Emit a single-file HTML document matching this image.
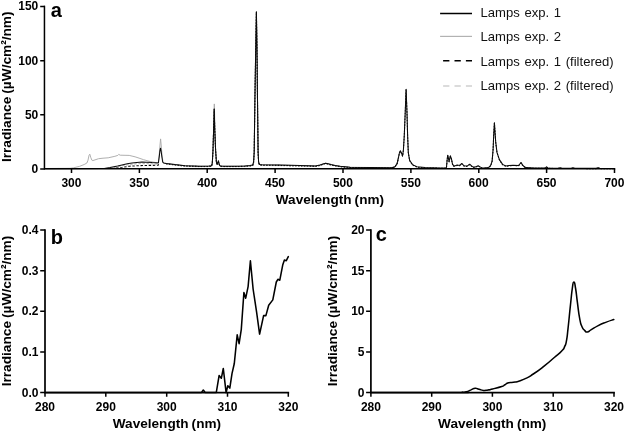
<!DOCTYPE html>
<html lang="en">
<head>
<meta charset="utf-8">
<title>Lamp irradiance spectra</title>
<style>
html,body{margin:0;padding:0;background:#fff;}
body{width:625px;height:432px;overflow:hidden;}
svg{display:block;}
text{font-family:"Liberation Sans",Arial,Helvetica,sans-serif;fill:#000;}
.tk{font-size:12px;font-weight:bold;}
.ti{font-size:13.6px;font-weight:bold;word-spacing:-0.7px;}
.pl{font-size:20px;font-weight:bold;}
.lg{font-size:13.1px;word-spacing:1px;fill:#111;}
.ax{stroke:#000;stroke-width:1.7;fill:none;stroke-linecap:square;}
.tc{stroke:#000;stroke-width:1.5;fill:none;}
.c1{stroke:#0a0a0a;stroke-width:1.05;fill:none;stroke-linejoin:round;}
.c2{stroke:#a6a6a6;stroke-width:0.9;fill:none;stroke-linejoin:round;}
.cb{stroke:#000;stroke-width:1.55;fill:none;stroke-linejoin:round;stroke-linecap:round;}
</style>
</head>
<body>
<svg width="625" height="432" viewBox="0 0 625 432">
<rect width="625" height="432" fill="#fff"/>

<g id="pa">
<polyline class="c2" points="45.0,168.5 70.0,168.3 73.6,167.8 79.4,166.4 84.2,164.5 86.9,163.0 88.0,160.2 89.0,155.4 89.8,154.2 90.7,157.3 91.9,160.2 92.8,160.6 98.6,158.7 103.0,158.2 108.2,157.8 114.9,156.3 117.8,155.4 118.7,154.4 120.2,155.2 125.0,155.3 129.2,155.4 135.0,156.8 139.0,158.1 143.6,159.7 150.3,161.6 156.1,162.6 158.3,162.7 159.2,155.0 160.0,145.0 160.6,138.9 161.2,145.0 162.0,155.0 163.0,162.3 163.7,163.0 166.0,163.4 175.0,164.6 185.0,165.7 200.0,166.2 209.0,166.1 211.6,165.8 212.3,163.0 213.0,150.0 213.6,130.0 213.9,118.0 214.3,103.9 214.7,118.0 214.8,130.0 215.6,150.0 216.4,162.0 217.2,164.4 218.4,160.8 219.3,164.5 220.2,166.0 225.0,166.2 235.0,166.2 245.0,166.0 250.0,165.6 252.8,165.0 253.6,162.0 254.2,152.0 254.9,100.0 255.7,50.0 256.4,11.8 257.0,50.0 257.5,100.0 258.1,152.0 258.6,162.0 259.4,164.5 262.0,164.8 280.0,165.1 300.0,165.6 315.5,165.9 320.0,165.1 323.0,163.9 325.6,163.2 328.0,163.7 331.0,164.6 335.0,165.4 340.2,166.3 350.0,167.2 370.0,167.5 388.0,167.7 391.6,167.7 394.9,166.8 397.1,163.5 398.6,156.9"/>
<polyline class="c2" stroke-dasharray="2.4 1.7" points="106.0,168.5 112.0,167.8 119.6,166.4 129.2,164.5 138.8,163.6 148.4,163.6 156.1,164.0 158.4,164.1"/>
<polyline class="c2" stroke-dasharray="1.6 1.3" points="166.0,164.0 175.0,165.2 185.0,166.3 200.0,166.8 209.0,166.7 211.6,166.4 212.3,163.6 213.0,150.6 213.6,130.6 214.2,109.5 214.8,130.6 215.6,150.6 216.4,162.6 217.2,165.0 218.4,161.4 219.3,165.1 220.2,166.6 225.0,166.8 235.0,166.8 245.0,166.6 250.0,166.2 252.8,165.6 253.6,162.6 254.2,152.6 254.9,100.6 255.7,50.6 256.4,12.4 257.0,50.6 257.5,100.6 258.1,152.6 258.6,162.6 259.4,165.1 262.0,165.4 280.0,165.7 300.0,166.2 315.5,166.5 320.0,165.7 323.0,164.5 325.6,163.8 328.0,164.3 331.0,165.2 335.0,166.0 340.2,166.9 350.0,167.8 370.0,168.1 388.0,168.3 391.6,168.3 394.9,167.4 397.1,164.1 398.6,157.5"/>
<polyline class="c1" stroke-dasharray="2.4 1.7" points="112.0,168.4 117.0,168.0 122.5,167.4 129.2,166.2 138.8,165.7 148.4,165.4 158.2,165.3 158.8,163.0"/>
<polyline class="c1" stroke-dasharray="1.6 1.3" points="166.0,163.8 175.0,164.9 185.0,166.0 200.0,166.5 209.0,166.4 211.6,166.2 212.3,163.3 213.0,150.3 213.6,130.3 214.2,109.2 214.8,130.3 215.6,150.3 216.4,162.3 217.2,164.8 218.4,161.2 219.3,164.8 220.2,166.3 225.0,166.5 235.0,166.5 245.0,166.3 250.0,165.9 252.8,165.3 253.6,162.3 254.2,152.3 254.9,100.3 255.7,50.4 256.4,12.2 257.0,50.4 257.5,100.3 258.1,152.3 258.6,162.3 259.4,164.8 262.0,165.2 280.0,165.4 300.0,165.9 315.5,166.2 320.0,165.4 323.0,164.2 325.6,163.5 328.0,164.0 331.0,164.9 335.0,165.8 340.2,166.7 350.0,167.5 370.0,167.8 388.0,168.0 391.6,168.0 394.9,167.2 397.1,163.8 398.6,157.2 399.5,152.8 400.4,151.2 401.4,153.3 402.6,156.2 403.4,150.3 404.3,135.3 405.2,113.3 406.1,89.5 407.0,113.3 407.6,135.3 408.3,152.8 409.6,160.5 412.5,164.9 416.9,167.2 425.0,167.9 440.0,168.2 446.0,168.3 446.5,167.2 447.2,159.5 447.7,155.5 448.4,158.3 449.1,161.9 449.8,158.3 450.4,156.2 451.5,159.5 452.5,164.3 453.7,166.2 455.2,166.0 457.1,165.4 459.5,165.8 461.9,163.8 463.8,166.0 466.7,166.4 468.1,165.8 469.7,164.5 471.5,166.2 473.4,167.4 475.3,167.2 478.2,166.0 480.1,167.2 482.0,168.3 484.9,168.2 488.7,167.8 490.7,165.8 492.1,161.4 493.1,149.9 493.7,135.3 494.4,123.1 495.1,133.3 495.7,142.3 497.0,152.8 499.4,159.9 502.6,164.8 505.8,166.3 509.0,165.9 513.0,165.5 518.6,165.8 519.8,164.3 521.0,162.8 522.2,164.8 523.4,166.3 525.8,167.9 535.0,168.3 545.3,168.3 546.6,167.2 548.0,168.3 558.0,168.5 560.0,168.0 562.0,168.5 571.0,168.5 573.0,168.2 575.0,168.5 596.0,168.7 598.0,168.0 600.0,168.7 614.5,168.8"/>
<polyline class="c1" points="45.0,168.6 104.2,168.4 110.0,167.6 117.6,166.1 122.0,165.0 127.2,163.8 132.0,163.0 136.8,162.4 142.0,162.1 146.4,162.2 152.0,162.6 158.4,162.9 159.2,157.0 159.9,151.0 160.5,148.2 161.1,151.0 161.9,157.0 162.7,162.0 163.3,162.8 163.7,163.0 166.0,163.4 175.0,164.6 185.0,165.7 200.0,166.2 209.0,166.1 211.6,165.8 212.3,163.0 213.0,150.0 213.6,130.0 214.2,108.9 214.8,130.0 215.6,150.0 216.4,162.0 217.2,164.4 218.4,160.8 219.3,164.5 220.2,166.0 225.0,166.2 235.0,166.2 245.0,166.0 250.0,165.6 252.8,165.0 253.6,162.0 254.2,152.0 254.9,100.0 255.7,50.0 256.4,11.8 257.0,50.0 257.5,100.0 258.1,152.0 258.6,162.0 259.4,164.5 262.0,164.8 280.0,165.1 300.0,165.6 315.5,165.9 320.0,165.1 323.0,163.9 325.6,163.2 328.0,163.7 331.0,164.6 335.0,165.4 340.2,166.3 350.0,167.2 370.0,167.5 388.0,167.7 391.6,167.7 394.9,166.8 397.1,163.5 398.6,156.9 399.5,152.5 400.4,150.8 401.4,153.0 402.6,155.8 403.4,150.0 404.3,135.0 405.2,113.0 406.1,89.2 407.0,113.0 407.6,135.0 408.3,152.5 409.6,160.2 412.5,164.6 416.9,166.8 425.0,167.6 440.0,167.9 446.0,168.0 446.5,166.9 447.2,159.2 447.7,155.2 448.4,158.0 449.1,161.6 449.8,158.0 450.4,155.8 451.5,159.2 452.5,164.0 453.7,165.9 455.2,165.7 457.1,165.1 459.5,165.4 461.9,163.5 463.8,165.7 466.7,166.1 468.1,165.4 469.7,164.2 471.5,165.9 473.4,167.1 475.3,166.9 478.2,165.7 480.1,166.9 482.0,168.0 484.9,167.8 488.7,167.4 490.7,165.4 492.1,161.1 493.1,149.6 493.7,135.0 494.4,122.8 495.1,133.0 495.7,142.0 497.0,152.4 499.4,159.6 502.6,164.4 505.8,166.0 509.0,165.6 513.0,165.2 518.6,165.5 519.8,164.0 521.0,162.5 522.2,164.4 523.4,166.0 525.8,167.6 535.0,168.0 545.3,168.0 546.6,166.9 548.0,168.0 558.0,168.2 560.0,167.7 562.0,168.2 571.0,168.2 573.0,167.8 575.0,168.2 596.0,168.3 598.0,167.7 600.0,168.3 614.5,168.5"/>
<path class="ax" style="stroke-width:1.5" d="M44.45,6.6V168.80H614.5"/>
<path class="tc" d="M40.2,6.60H45.0M40.2,60.70H45.0M40.2,114.80H45.0M40.2,168.90H45.0"/>
<path class="tc" d="M71.5,168.80V173.10M139.4,168.80V173.10M207.2,168.80V173.10M275.1,168.80V173.10M343.0,168.80V173.10M410.9,168.80V173.10M478.8,168.80V173.10M546.6,168.80V173.10M614.5,168.80V173.10"/>
<text class="tk" text-anchor="end" transform="translate(38.3,10.4) scale(1,1.000)">150</text>
<text class="tk" text-anchor="end" transform="translate(38.3,64.5) scale(1,1.000)">100</text>
<text class="tk" text-anchor="end" transform="translate(38.3,118.6) scale(1,1.000)">50</text>
<text class="tk" text-anchor="end" transform="translate(38.3,172.7) scale(1,1.000)">0</text>
<text class="tk" text-anchor="middle" transform="translate(71.4,186.6) scale(1,1.000)">300</text>
<text class="tk" text-anchor="middle" transform="translate(139.3,186.6) scale(1,1.000)">350</text>
<text class="tk" text-anchor="middle" transform="translate(207.2,186.6) scale(1,1.000)">400</text>
<text class="tk" text-anchor="middle" transform="translate(275.0,186.6) scale(1,1.000)">450</text>
<text class="tk" text-anchor="middle" transform="translate(342.9,186.6) scale(1,1.000)">500</text>
<text class="tk" text-anchor="middle" transform="translate(410.8,186.6) scale(1,1.000)">550</text>
<text class="tk" text-anchor="middle" transform="translate(478.6,186.6) scale(1,1.000)">600</text>
<text class="tk" text-anchor="middle" transform="translate(546.5,186.6) scale(1,1.000)">650</text>
<text class="tk" text-anchor="middle" transform="translate(614.4,186.6) scale(1,1.000)">700</text>
<text class="ti" text-anchor="middle" transform="translate(329.9,204.1) scale(1,0.935)">Wavelength (nm)</text>
<text class="ti" text-anchor="middle" transform="translate(10.9,86.75) rotate(-90) scale(1.005,1)">Irradiance (µW/cm²/nm)</text>
<text class="pl" transform="translate(50.7,17.0) scale(1,0.970)">a</text>
<line x1="440.1" y1="13.5" x2="472" y2="13.5" stroke="#000" stroke-width="1.5"/>
<line x1="440.1" y1="36.4" x2="472" y2="36.4" stroke="#b2b2b2" stroke-width="1.2"/>
<line x1="443.1" y1="60.8" x2="472" y2="60.8" stroke="#000" stroke-width="1.6" stroke-dasharray="6.3 5.1"/>
<line x1="443.1" y1="86" x2="472" y2="86" stroke="#b8b8b8" stroke-width="1.1" stroke-dasharray="6.3 5.1"/>

<text class="lg" transform="translate(480.5,16.9) scale(1,0.950)">Lamps exp. 1</text>
<text class="lg" transform="translate(480.5,40.9) scale(1,0.950)">Lamps exp. 2</text>
<text class="lg" transform="translate(480.5,65.6) scale(1,0.950)">Lamps exp. 1 (filtered)</text>
<text class="lg" transform="translate(480.5,89.9) scale(1,0.950)">Lamps exp. 2 (filtered)</text>
</g>
<g id="pb">
<polyline class="cb" points="45.1,392.4 201.5,392.4 203.3,390.0 205.2,392.4 216.3,392.4 219.1,375.6 221.3,378.3 223.3,368.5 226.1,392.6 227.8,385.7 229.8,388.1 232.0,373.7 234.3,363.5 237.2,334.8 239.1,343.7 241.3,329.3 243.9,292.5 245.7,298.2 248.1,286.7 250.4,260.7 253.1,289.0 256.6,312.1 259.6,334.1 263.6,315.6 265.9,315.6 268.7,305.2 272.8,299.9 276.3,282.0 277.9,279.3 279.8,280.2 282.8,264.7 284.4,260.0 286.3,260.7 288.3,256.6"/>
<path class="ax" d="M45.0,230V392.55H288.3"/>
<path class="tc" d="M40.2,230.00H45.0M40.2,270.64H45.0M40.2,311.28H45.0M40.2,351.92H45.0M40.2,392.56H45.0"/>
<path class="tc" d="M45.0,392.55V396.85M105.8,392.55V396.85M166.7,392.55V396.85M227.5,392.55V396.85M288.3,392.55V396.85"/>
<text class="tk" text-anchor="end" transform="translate(38.5,233.9) scale(1,1.000)">0.4</text>
<text class="tk" text-anchor="end" transform="translate(38.5,274.5) scale(1,1.000)">0.3</text>
<text class="tk" text-anchor="end" transform="translate(38.5,315.2) scale(1,1.000)">0.2</text>
<text class="tk" text-anchor="end" transform="translate(38.5,355.8) scale(1,1.000)">0.1</text>
<text class="tk" text-anchor="end" transform="translate(38.5,396.5) scale(1,1.000)">0.0</text>
<text class="tk" text-anchor="middle" transform="translate(45.0,410.5) scale(1,1.000)">280</text>
<text class="tk" text-anchor="middle" transform="translate(105.8,410.5) scale(1,1.000)">290</text>
<text class="tk" text-anchor="middle" transform="translate(166.7,410.5) scale(1,1.000)">300</text>
<text class="tk" text-anchor="middle" transform="translate(227.5,410.5) scale(1,1.000)">310</text>
<text class="tk" text-anchor="middle" transform="translate(288.3,410.5) scale(1,1.000)">320</text>
<text class="ti" text-anchor="middle" transform="translate(166.9,427.5) scale(1,0.935)">Wavelength (nm)</text>
<text class="ti" text-anchor="middle" transform="translate(10.9,311) rotate(-90) scale(1.005,1)">Irradiance (µW/cm²/nm)</text>
<text class="pl" transform="translate(50.8,243.8) scale(1,0.970)">b</text>
</g>
<g id="pc">
<path class="cb" d="M371.0,392.4C396.2,392.4 427.7,392.4 455.0,392.4C482.3,392.4 458.6,392.5 462.0,392.3C465.4,392.1 463.8,392.5 466.5,391.8C469.2,391.1 468.4,390.9 471.0,389.9C473.6,388.8 472.8,388.5 475.2,388.3C477.6,388.1 476.5,388.7 479.0,389.3C481.5,389.9 480.7,390.2 483.4,390.4C486.1,390.6 485.2,390.4 488.0,390.0C490.8,389.6 488.5,390.0 492.6,389.0C496.7,388.0 498.0,387.9 501.7,386.6C505.4,385.3 502.9,385.8 505.0,384.7C507.1,383.6 505.5,383.6 508.6,382.8C511.7,382.0 510.5,383.2 515.2,382.1C519.9,381.0 518.8,381.5 524.2,379.1C529.6,376.7 527.1,378.1 533.3,374.0C539.5,369.9 538.7,370.3 545.0,365.4C551.3,360.4 549.3,361.8 554.3,357.5C559.3,353.2 558.6,354.3 561.7,351.0C564.8,347.7 563.3,349.5 564.7,346.4C566.1,343.3 565.5,346.2 566.5,340.6C567.5,335.1 566.9,338.7 568.1,327.9C569.3,317.1 569.2,316.5 570.5,304.7C571.8,292.9 571.3,295.3 572.3,288.5C573.3,281.7 572.9,282.0 573.9,282.0C574.9,282.0 574.6,282.4 575.6,288.5C576.6,294.6 576.2,293.4 577.4,302.4C578.6,311.4 578.3,311.3 579.7,318.6C581.1,325.9 580.5,323.1 582.0,326.7C583.5,330.3 583.2,329.0 584.8,330.6C586.4,332.2 585.4,332.3 587.4,332.0C589.4,331.7 588.1,331.6 591.3,329.7C594.5,327.8 593.7,327.9 598.2,325.6C602.7,323.3 601.6,323.9 606.3,322.1C611.0,320.3 611.5,320.3 613.8,319.5"/>
<path class="ax" d="M370.9,230V392.55H614.0"/>
<path class="tc" d="M366.1,230.00H370.9M366.1,270.64H370.9M366.1,311.28H370.9M366.1,351.92H370.9M366.1,392.56H370.9"/>
<path class="tc" d="M370.9,392.55V396.85M431.7,392.55V396.85M492.4,392.55V396.85M553.2,392.55V396.85M614.0,392.55V396.85"/>
<text class="tk" text-anchor="end" transform="translate(364.5,233.9) scale(1,1.000)">20</text>
<text class="tk" text-anchor="end" transform="translate(364.5,274.5) scale(1,1.000)">15</text>
<text class="tk" text-anchor="end" transform="translate(364.5,315.2) scale(1,1.000)">10</text>
<text class="tk" text-anchor="end" transform="translate(364.5,355.8) scale(1,1.000)">5</text>
<text class="tk" text-anchor="end" transform="translate(364.5,396.5) scale(1,1.000)">0</text>
<text class="tk" text-anchor="middle" transform="translate(370.9,410.5) scale(1,1.000)">280</text>
<text class="tk" text-anchor="middle" transform="translate(431.7,410.5) scale(1,1.000)">290</text>
<text class="tk" text-anchor="middle" transform="translate(492.4,410.5) scale(1,1.000)">300</text>
<text class="tk" text-anchor="middle" transform="translate(553.2,410.5) scale(1,1.000)">310</text>
<text class="tk" text-anchor="middle" transform="translate(614.0,410.5) scale(1,1.000)">320</text>
<text class="ti" text-anchor="middle" transform="translate(492.2,427.5) scale(1,0.935)">Wavelength (nm)</text>
<text class="ti" text-anchor="middle" transform="translate(336.5,311) rotate(-90) scale(1.005,1)">Irradiance (µW/cm²/nm)</text>
<text class="pl" transform="translate(375.7,241.0) scale(1,0.970)">c</text>
</g>
</svg>
</body>
</html>
